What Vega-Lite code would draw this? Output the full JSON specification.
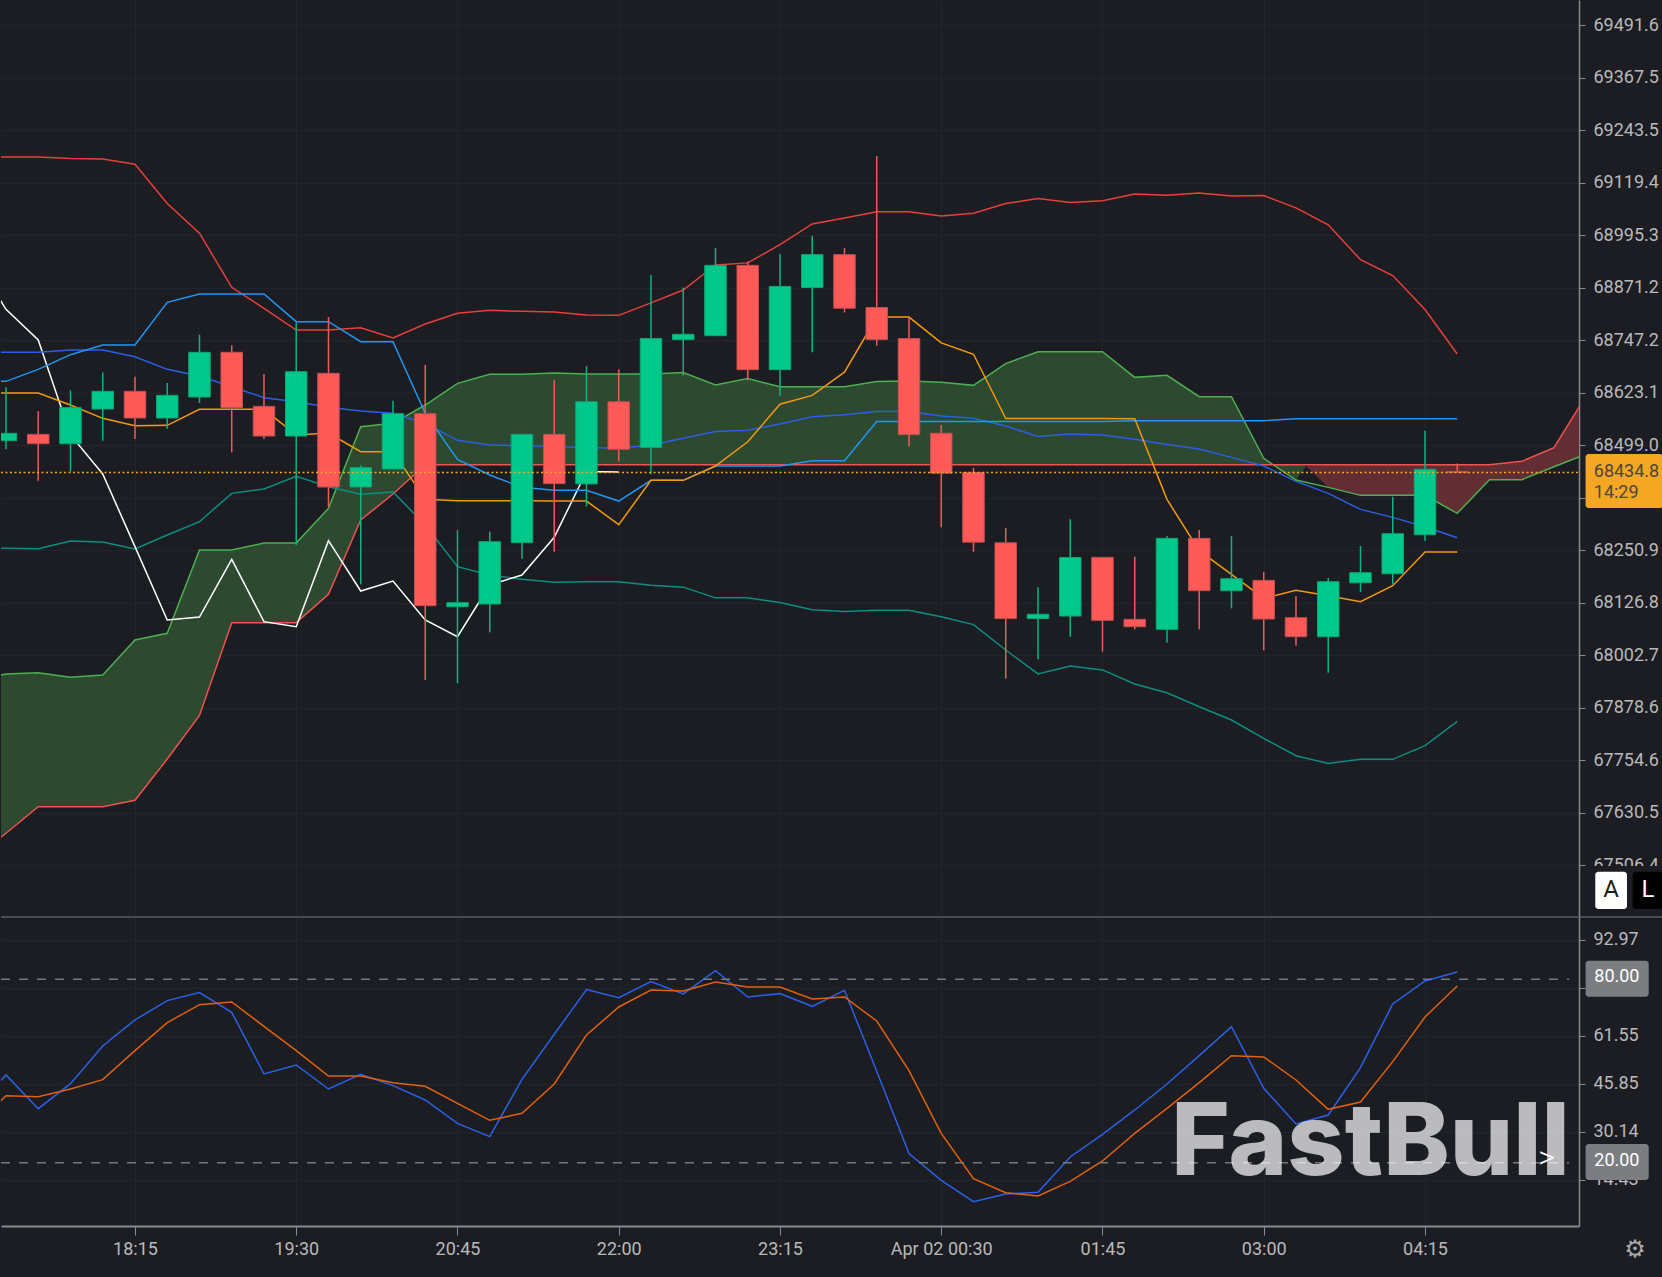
{
  "$schema": "https://vega.github.io/schema/vega-lite/v6.json",
  "background": "#1c1d22",
  "padding": 0,
  "spacing": 0,
  "bounds": "flush",
  "config": {
    "view": {"stroke": null},
    "axis": {
      "title": null,
      "labelFont": "Roboto",
      "labelFontSize": 18,
      "labelColor": "#b9b9b9",
      "tickColor": "#8a8a8d",
      "domainColor": "#8a8a8d",
      "gridColor": "#24252a",
      "gridWidth": 1,
      "labelOverlap": false,
      "labelBound": false,
      "labelFlush": false
    }
  },
  "datasets": {
    "bars": [
      {"t":"2024-04-01T17:00:00Z","upper":69180.5,"mid":68720.1,"lower":68257.7,"tenkan":68622.4,"kijun":68650,"chikou":68944.6,"spanA":67944.1,"spanB":67522,"k":37.2,"d":31.35},
      {"t":"2024-04-01T17:15:00Z","open":68509.8,"high":68635.8,"low":68489.3,"close":68527.1,"upper":69180.5,"mid":68718.5,"lower":68255.3,"tenkan":68622.4,"kijun":68650,"chikou":68820.2,"spanA":67958.3,"spanB":67582,"k":48.7,"d":41.93},
      {"t":"2024-04-01T17:30:00Z","open":68524.7,"high":68579.1,"low":68415.2,"close":68502.7,"upper":69180.5,"mid":68718.5,"lower":68254.5,"tenkan":68622.4,"kijun":68678.4,"chikou":68747.7,"spanA":67961.4,"spanB":67644.8,"k":37.67,"d":41.6},
      {"t":"2024-04-01T17:45:00Z","open":68502.7,"high":68628.7,"low":68436.5,"close":68587.8,"upper":69176.8,"mid":68724,"lower":68272.6,"tenkan":68594.1,"kijun":68713,"chikou":68523.2,"spanA":67950.4,"spanB":67644.8,"k":45.85,"d":44.11},
      {"t":"2024-04-01T18:00:00Z","open":68584.6,"high":68671.3,"low":68509.8,"close":68626.4,"upper":69175.5,"mid":68724,"lower":68270.3,"tenkan":68562.6,"kijun":68735.9,"chikou":68431,"spanA":67955.9,"spanB":67644.8,"k":58.18,"d":47.16},
      {"t":"2024-04-01T18:15:00Z","open":68626.4,"high":68661,"low":68513.7,"close":68563.4,"upper":69163,"mid":68708.3,"lower":68253.7,"tenkan":68545.2,"kijun":68735.9,"chikou":68259.3,"spanA":68038.7,"spanB":67659.8,"k":66.69,"d":56.65},
      {"t":"2024-04-01T18:30:00Z","open":68563.4,"high":68646,"low":68538.1,"close":68616.9,"upper":69070.3,"mid":68678.4,"lower":68286.8,"tenkan":68546,"kijun":68836.7,"chikou":68085.9,"spanA":68054.4,"spanB":67757.5,"k":73.02,"d":65.82},
      {"t":"2024-04-01T18:45:00Z","open":68613,"high":68760.3,"low":68598.8,"close":68718.6,"upper":69000.1,"mid":68662.6,"lower":68318.3,"tenkan":68583.8,"kijun":68856.4,"chikou":68093,"spanA":68251.4,"spanB":67860.2,"k":75.64,"d":71.71},
      {"t":"2024-04-01T19:00:00Z","open":68718.6,"high":68735.1,"low":68482.2,"close":68587.8,"upper":68872.2,"mid":68637.4,"lower":68385.3,"tenkan":68583.8,"kijun":68856.4,"chikou":68229.3,"spanA":68251.4,"spanB":68079.6,"k":69.2,"d":72.58},
      {"t":"2024-04-01T19:15:00Z","open":68590.9,"high":68667.3,"low":68513.7,"close":68520.8,"upper":68822.5,"mid":68611.4,"lower":68395.5,"tenkan":68583.8,"kijun":68856.4,"chikou":68082,"spanA":68267.9,"spanB":68079.6,"k":49.02,"d":64.62},
      {"t":"2024-04-01T19:30:00Z","open":68520.8,"high":68788.7,"low":68263.2,"close":68672.8,"upper":68771.3,"mid":68602,"lower":68425.5,"tenkan":68523.2,"kijun":68791,"chikou":68070.2,"spanA":68267.9,"spanB":68079.6,"k":51.96,"d":56.65},
      {"t":"2024-04-01T19:45:00Z","open":68668.9,"high":68802,"low":68353.8,"close":68400.3,"upper":68771.3,"mid":68588.6,"lower":68401.1,"tenkan":68527.9,"kijun":68791,"chikou":68273.4,"spanA":68349.8,"spanB":68146.6,"k":44.11,"d":48.36},
      {"t":"2024-04-01T20:00:00Z","open":68400.3,"high":68451.5,"low":68170.2,"close":68446,"upper":68776.8,"mid":68579.9,"lower":68383,"tenkan":68483.8,"kijun":68743.8,"chikou":68154.5,"spanA":68542.9,"spanB":68322.3,"k":48.91,"d":48.36},
      {"t":"2024-04-01T20:15:00Z","open":68442.8,"high":68604.3,"low":68442.8,"close":68573.6,"upper":68752.4,"mid":68574.4,"lower":68388.5,"tenkan":68483.8,"kijun":68743.8,"chikou":68178.1,"spanA":68550.7,"spanB":68383.7,"k":45.2,"d":46.18},
      {"t":"2024-04-01T20:30:00Z","open":68573.6,"high":68688.6,"low":67944.1,"close":68119.8,"upper":68785.5,"mid":68550.7,"lower":68310.5,"tenkan":68371.1,"kijun":68574.4,"chikou":68085.9,"spanA":68594.1,"spanB":68453,"k":40.51,"d":44.98},
      {"t":"2024-04-01T20:45:00Z","open":68117.4,"high":68298.6,"low":67936.3,"close":68126.9,"upper":68810.7,"mid":68510.6,"lower":68212,"tenkan":68368,"kijun":68465.7,"chikou":68046.6,"spanA":68645.3,"spanB":68453,"k":32.87,"d":39.42},
      {"t":"2024-04-01T21:00:00Z","open":68123.7,"high":68294.7,"low":68056.8,"close":68271.1,"upper":68817.8,"mid":68499.5,"lower":68192.3,"tenkan":68368,"kijun":68428.6,"chikou":68168.7,"spanA":68666.6,"spanB":68453,"k":28.51,"d":33.85},
      {"t":"2024-04-01T21:15:00Z","open":68268.7,"high":68526,"low":68230.9,"close":68524.7,"upper":68815.4,"mid":68498,"lower":68182.1,"tenkan":68368,"kijun":68399.5,"chikou":68192.3,"spanA":68666.6,"spanB":68453,"k":47.27,"d":36.15},
      {"t":"2024-04-01T21:30:00Z","open":68524.7,"high":68653.1,"low":68247.4,"close":68408.2,"upper":68813.9,"mid":68496.2,"lower":68175.4,"tenkan":68367,"kijun":68392.8,"chikou":68281.3,"spanA":68670,"spanB":68453,"k":62,"d":45.75},
      {"t":"2024-04-01T21:45:00Z","open":68407.6,"high":68686.1,"low":68354.4,"close":68601.7,"upper":68806.8,"mid":68493.7,"lower":68176.3,"tenkan":68367,"kijun":68392.4,"chikou":68437.1,"spanA":68667.5,"spanB":68453,"k":76.62,"d":61.78},
      {"t":"2024-04-01T22:00:00Z","open":68601.7,"high":68678.5,"low":68460.7,"close":68489.4,"upper":68806,"mid":68492,"lower":68176.3,"tenkan":68311.4,"kijun":68367,"chikou":68436,"spanA":68667.5,"spanB":68453,"k":74,"d":70.95},
      {"t":"2024-04-01T22:15:00Z","open":68493.6,"high":68901.4,"low":68430.3,"close":68751.1,"upper":68835.5,"mid":68499.6,"lower":68167.8,"tenkan":68416,"kijun":68416,"spanA":68667.5,"spanB":68453,"k":79.24,"d":76.51},
      {"t":"2024-04-01T22:30:00Z","open":68748.6,"high":68871.8,"low":68663.3,"close":68761.2,"upper":68865.9,"mid":68515.6,"lower":68163.6,"tenkan":68416,"kijun":68416,"spanA":68670.9,"spanB":68453,"k":75.2,"d":76.18},
      {"t":"2024-04-01T22:45:00Z","open":68757.9,"high":68965.5,"low":68757.9,"close":68924.2,"upper":68925,"mid":68531.6,"lower":68138.3,"tenkan":68449.8,"kijun":68449.8,"spanA":68641.4,"spanB":68453,"k":82.84,"d":79.13},
      {"t":"2024-04-01T23:00:00Z","open":68924.2,"high":68933.4,"low":68652.3,"close":68677.7,"upper":68930,"mid":68534.2,"lower":68138.3,"tenkan":68507.2,"kijun":68449.8,"spanA":68656.6,"spanB":68453,"k":74.22,"d":77.49},
      {"t":"2024-04-01T23:15:00Z","open":68677.7,"high":68951.2,"low":68616,"close":68874.3,"upper":68973,"mid":68549.4,"lower":68127.3,"tenkan":68595.8,"kijun":68449.8,"spanA":68637.2,"spanB":68453,"k":75.31,"d":77.49},
      {"t":"2024-04-01T23:30:00Z","open":68871.8,"high":68994.2,"low":68719,"close":68949.5,"upper":69022,"mid":68566.3,"lower":68110.4,"tenkan":68616.9,"kijun":68462.4,"spanA":68637.2,"spanB":68453,"k":71.16,"d":73.56},
      {"t":"2024-04-01T23:45:00Z","open":68949.5,"high":68965.5,"low":68812.7,"close":68822.9,"upper":69036,"mid":68571.3,"lower":68106.2,"tenkan":68671.8,"kijun":68462.4,"spanA":68637.2,"spanB":68453,"k":76.4,"d":74.22},
      {"t":"2024-04-02T00:00:00Z","open":68824.6,"high":69182.5,"low":68734.2,"close":68748.6,"upper":69050.8,"mid":68578.9,"lower":68108.7,"tenkan":68801.8,"kijun":68555.3,"spanA":68649.8,"spanB":68453,"k":49.89,"d":66.36},
      {"t":"2024-04-02T00:15:00Z","open":68751.1,"high":68800.1,"low":68496.2,"close":68524,"upper":69050.8,"mid":68578.9,"lower":68108.7,"tenkan":68801.8,"kijun":68555.3,"spanA":68650.7,"spanB":68453,"k":22.95,"d":50.11},
      {"t":"2024-04-02T00:30:00Z","open":68527.4,"high":68546.8,"low":68305.4,"close":68432.9,"upper":69040.6,"mid":68567.9,"lower":68093.5,"tenkan":68741,"kijun":68555.3,"spanA":68648.1,"spanB":68453,"k":14.22,"d":29.6},
      {"t":"2024-04-02T00:45:00Z","open":68434.6,"high":68445.5,"low":68247.2,"close":68270,"upper":69047.4,"mid":68562.9,"lower":68075,"tenkan":68714,"kijun":68555.3,"spanA":68640.5,"spanB":68453,"k":7.24,"d":14.76},
      {"t":"2024-04-02T01:00:00Z","open":68268.3,"high":68303.7,"low":67947.5,"close":68089.3,"upper":69070.2,"mid":68544.3,"lower":68015,"tenkan":68562,"kijun":68555.3,"spanA":68692,"spanB":68453,"k":9.75,"d":10.18},
      {"t":"2024-04-02T01:15:00Z","open":68089.3,"high":68163.6,"low":67993.1,"close":68099.5,"upper":69082,"mid":68519.8,"lower":67958.5,"tenkan":68562,"kijun":68555.3,"spanA":68719.9,"spanB":68453,"k":10.29,"d":9.09},
      {"t":"2024-04-02T01:30:00Z","open":68095.3,"high":68324,"low":68046.3,"close":68233.7,"upper":69072.7,"mid":68525.7,"lower":67977,"tenkan":68562,"kijun":68555.3,"spanA":68719.9,"spanB":68453,"k":21.85,"d":13.89},
      {"t":"2024-04-02T01:45:00Z","open":68234,"high":68234,"low":68011,"close":68085.1,"upper":69076.9,"mid":68523.2,"lower":67968,"tenkan":68562,"kijun":68555.3,"spanA":68719.9,"spanB":68453,"k":29.27,"d":20.55},
      {"t":"2024-04-02T02:00:00Z","open":68087.5,"high":68235.6,"low":68063.8,"close":68070.1,"upper":69092.8,"mid":68512.9,"lower":67934.6,"tenkan":68561.7,"kijun":68557,"spanA":68659.4,"spanB":68453,"k":37.24,"d":29.6},
      {"t":"2024-04-02T02:15:00Z","open":68063.8,"high":68284.4,"low":68032.3,"close":68278.9,"upper":69090,"mid":68501,"lower":67914.1,"tenkan":68371,"kijun":68557,"spanA":68664.4,"spanB":68453,"k":45.75,"d":37.78},
      {"t":"2024-04-02T02:30:00Z","open":68278.9,"high":68298.6,"low":68063.8,"close":68155.2,"upper":69095.3,"mid":68490,"lower":67881,"tenkan":68249.7,"kijun":68557,"spanA":68613.7,"spanB":68453,"k":55.02,"d":46.18},
      {"t":"2024-04-02T02:45:00Z","open":68155.2,"high":68284.4,"low":68113.5,"close":68183.6,"upper":69087.8,"mid":68470.3,"lower":67849.5,"tenkan":68193.8,"kijun":68557,"spanA":68613.7,"spanB":68453,"k":64.51,"d":55.02},
      {"t":"2024-04-02T03:00:00Z","open":68179.6,"high":68199.3,"low":68014.2,"close":68088.3,"upper":69089,"mid":68449.8,"lower":67806.2,"tenkan":68137.1,"kijun":68557,"spanA":68468,"spanB":68453,"k":44.33,"d":54.58},
      {"t":"2024-04-02T03:15:00Z","open":68091.4,"high":68142.6,"low":68025.2,"close":68046.5,"upper":69060,"mid":68413.6,"lower":67765.2,"tenkan":68156,"kijun":68561.7,"spanA":68416.8,"spanB":68453,"k":32.65,"d":47.05},
      {"t":"2024-04-02T03:30:00Z","open":68046.5,"high":68185.1,"low":67961.4,"close":68176.5,"upper":69020,"mid":68385.2,"lower":67747.1,"tenkan":68143.4,"kijun":68561.7,"spanA":68399.4,"spanB":68453,"k":35.6,"d":37.45},
      {"t":"2024-04-02T03:45:00Z","open":68174.1,"high":68260.8,"low":68152.1,"close":68197.7,"upper":68937.5,"mid":68347.4,"lower":67756.6,"tenkan":68129.2,"kijun":68561.7,"spanA":68380.5,"spanB":68453,"k":51.09,"d":39.85},
      {"t":"2024-04-02T04:00:00Z","open":68195.4,"high":68377.4,"low":68170.2,"close":68289.9,"upper":68900,"mid":68328.5,"lower":67756.6,"tenkan":68167,"kijun":68561.7,"spanA":68380.5,"spanB":68453,"k":71.93,"d":53.05},
      {"t":"2024-04-02T04:15:00Z","open":68287.6,"high":68533.4,"low":68272.6,"close":68442,"upper":68819.8,"mid":68306.5,"lower":67788.9,"tenkan":68246.6,"kijun":68561.7,"spanA":68380.5,"spanB":68453,"k":79.45,"d":67.67},
      {"t":"2024-04-02T04:30:00Z","open":68436.5,"high":68456,"low":68434,"close":68434.8,"upper":68714.5,"mid":68280.5,"lower":67846.4,"tenkan":68246.6,"kijun":68561.7,"spanA":68338,"spanB":68453,"k":82.4,"d":77.82},
      {"t":"2024-04-02T04:45:00Z","spanA":68417.5,"spanB":68453},
      {"t":"2024-04-02T05:00:00Z","spanA":68417.5,"spanB":68460.9},
      {"t":"2024-04-02T05:15:00Z","spanA":68448.3,"spanB":68493.2},
      {"t":"2024-04-02T05:30:00Z","spanA":68478.2,"spanB":68616.9}
    ],
    "cloud": [
      {"t":"2024-04-01T17:00:00Z","side":"bull","spanA":67944.1,"spanB":67522},
      {"t":"2024-04-01T17:15:00Z","side":"bull","spanA":67958.3,"spanB":67582},
      {"t":"2024-04-01T17:30:00Z","side":"bull","spanA":67961.4,"spanB":67644.8},
      {"t":"2024-04-01T17:45:00Z","side":"bull","spanA":67950.4,"spanB":67644.8},
      {"t":"2024-04-01T18:00:00Z","side":"bull","spanA":67955.9,"spanB":67644.8},
      {"t":"2024-04-01T18:15:00Z","side":"bull","spanA":68038.7,"spanB":67659.8},
      {"t":"2024-04-01T18:30:00Z","side":"bull","spanA":68054.4,"spanB":67757.5},
      {"t":"2024-04-01T18:45:00Z","side":"bull","spanA":68251.4,"spanB":67860.2},
      {"t":"2024-04-01T19:00:00Z","side":"bull","spanA":68251.4,"spanB":68079.6},
      {"t":"2024-04-01T19:15:00Z","side":"bull","spanA":68267.9,"spanB":68079.6},
      {"t":"2024-04-01T19:30:00Z","side":"bull","spanA":68267.9,"spanB":68079.6},
      {"t":"2024-04-01T19:45:00Z","side":"bull","spanA":68349.8,"spanB":68146.6},
      {"t":"2024-04-01T20:00:00Z","side":"bull","spanA":68542.9,"spanB":68322.3},
      {"t":"2024-04-01T20:15:00Z","side":"bull","spanA":68550.7,"spanB":68383.7},
      {"t":"2024-04-01T20:30:00Z","side":"bull","spanA":68594.1,"spanB":68453},
      {"t":"2024-04-01T20:45:00Z","side":"bull","spanA":68645.3,"spanB":68453},
      {"t":"2024-04-01T21:00:00Z","side":"bull","spanA":68666.6,"spanB":68453},
      {"t":"2024-04-01T21:15:00Z","side":"bull","spanA":68666.6,"spanB":68453},
      {"t":"2024-04-01T21:30:00Z","side":"bull","spanA":68670,"spanB":68453},
      {"t":"2024-04-01T21:45:00Z","side":"bull","spanA":68667.5,"spanB":68453},
      {"t":"2024-04-01T22:00:00Z","side":"bull","spanA":68667.5,"spanB":68453},
      {"t":"2024-04-01T22:15:00Z","side":"bull","spanA":68667.5,"spanB":68453},
      {"t":"2024-04-01T22:30:00Z","side":"bull","spanA":68670.9,"spanB":68453},
      {"t":"2024-04-01T22:45:00Z","side":"bull","spanA":68641.4,"spanB":68453},
      {"t":"2024-04-01T23:00:00Z","side":"bull","spanA":68656.6,"spanB":68453},
      {"t":"2024-04-01T23:15:00Z","side":"bull","spanA":68637.2,"spanB":68453},
      {"t":"2024-04-01T23:30:00Z","side":"bull","spanA":68637.2,"spanB":68453},
      {"t":"2024-04-01T23:45:00Z","side":"bull","spanA":68637.2,"spanB":68453},
      {"t":"2024-04-02T00:00:00Z","side":"bull","spanA":68649.8,"spanB":68453},
      {"t":"2024-04-02T00:15:00Z","side":"bull","spanA":68650.7,"spanB":68453},
      {"t":"2024-04-02T00:30:00Z","side":"bull","spanA":68648.1,"spanB":68453},
      {"t":"2024-04-02T00:45:00Z","side":"bull","spanA":68640.5,"spanB":68453},
      {"t":"2024-04-02T01:00:00Z","side":"bull","spanA":68692,"spanB":68453},
      {"t":"2024-04-02T01:15:00Z","side":"bull","spanA":68719.9,"spanB":68453},
      {"t":"2024-04-02T01:30:00Z","side":"bull","spanA":68719.9,"spanB":68453},
      {"t":"2024-04-02T01:45:00Z","side":"bull","spanA":68719.9,"spanB":68453},
      {"t":"2024-04-02T02:00:00Z","side":"bull","spanA":68659.4,"spanB":68453},
      {"t":"2024-04-02T02:15:00Z","side":"bull","spanA":68664.4,"spanB":68453},
      {"t":"2024-04-02T02:30:00Z","side":"bull","spanA":68613.7,"spanB":68453},
      {"t":"2024-04-02T02:45:00Z","side":"bull","spanA":68613.7,"spanB":68453},
      {"t":"2024-04-02T03:00:00Z","side":"bull","spanA":68468,"spanB":68453},
      {"t":"2024-04-02T03:15:00Z","side":"bull","spanA":68416.8,"spanB":68453},
      {"t":"2024-04-02T03:19:39Z","side":"bull","spanA":68450,"spanB":68450},
      {"t":"2024-04-02T03:19:39Z","side":"bear","spanA":68450,"spanB":68450},
      {"t":"2024-04-02T03:30:00Z","side":"bear","spanA":68399.4,"spanB":68453},
      {"t":"2024-04-02T03:45:00Z","side":"bear","spanA":68380.5,"spanB":68453},
      {"t":"2024-04-02T04:00:00Z","side":"bear","spanA":68380.5,"spanB":68453},
      {"t":"2024-04-02T04:15:00Z","side":"bear","spanA":68380.5,"spanB":68453},
      {"t":"2024-04-02T04:30:00Z","side":"bear","spanA":68338,"spanB":68453},
      {"t":"2024-04-02T04:45:00Z","side":"bear","spanA":68417.5,"spanB":68453},
      {"t":"2024-04-02T05:00:00Z","side":"bear","spanA":68417.5,"spanB":68460.9},
      {"t":"2024-04-02T05:15:00Z","side":"bear","spanA":68448.3,"spanB":68493.2},
      {"t":"2024-04-02T05:30:00Z","side":"bear","spanA":68478.2,"spanB":68616.9}
    ]
  },
  "vconcat": [
    {
      "width": 1578,
      "height": 917,
      "resolve": {"scale": {"color": "independent"}},
      "encoding": {
        "x": {
          "field": "t",
          "type": "temporal",
          "scale": {"type": "utc", "nice": false, "padding": 0, "domain": ["2024-04-01T17:12:41Z", "2024-04-02T05:26:38Z"]},
          "axis": {
            "values": ["2024-04-01T18:15:00Z", "2024-04-01T19:30:00Z", "2024-04-01T20:45:00Z", "2024-04-01T22:00:00Z", "2024-04-01T23:15:00Z", "2024-04-02T00:30:00Z", "2024-04-02T01:45:00Z", "2024-04-02T03:00:00Z", "2024-04-02T04:15:00Z"],
            "grid": true,
            "labels": false,
            "ticks": false,
            "domain": false,
            "minExtent": 0,
            "maxExtent": 0
          }
        },
        "y": {
          "field": "value",
          "type": "quantitative",
          "title": null,
          "scale": {"domain": [67384, 69551.3], "nice": false, "zero": false},
          "axis": {
            "orient": "right",
            "values": [69491.6, 69367.5, 69243.5, 69119.4, 68995.3, 68871.2, 68747.2, 68623.1, 68499, 68374.9, 68250.9, 68126.8, 68002.7, 67878.6, 67754.6, 67630.5, 67506.4],
            "format": ".1f",
            "grid": true,
            "domainWidth": 1.5,
            "tickSize": 6,
            "labelPadding": 8,
            "minExtent": 84,
            "maxExtent": 84
          }
        }
      },
      "layer": [
        {
          "data": {"name": "cloud"},
          "mark": {"type": "area", "clip": true},
          "encoding": {
            "y": {"field": "spanA", "type": "quantitative", "title": null},
            "y2": {"field": "spanB"},
            "color": {"field": "side", "type": "nominal", "legend": null, "scale": {"domain": ["bull", "bear"], "range": ["#2d4930", "#622e33"]}}
          }
        },
        {
          "data": {"name": "bars"},
          "transform": [
            {"fold": ["spanA", "spanB", "lower", "chikou", "upper", "mid", "kijun", "tenkan"], "as": ["series", "value"]},
            {"filter": "isValid(datum.value)"}
          ],
          "mark": {"type": "line", "clip": true, "strokeWidth": 1.5},
          "encoding": {
            "color": {
              "field": "series",
              "type": "nominal",
              "legend": null,
              "scale": {
                "domain": ["spanA", "spanB", "lower", "chikou", "upper", "mid", "kijun", "tenkan"],
                "range": ["#4caf50", "#ef5350", "#0b8f80", "#ffffff", "#e5403c", "#2a5fe8", "#2196f3", "#f09a0c"]
              }
            }
          }
        },
        {
          "data": {"name": "bars"},
          "mark": {"type": "rule", "clip": true, "strokeWidth": 1.5},
          "encoding": {
            "y": {"field": "high", "type": "quantitative", "title": null},
            "y2": {"field": "low"},
            "color": {"condition": {"test": "datum.close < datum.open", "value": "#f2595a"}, "value": "#0bb583"}
          }
        },
        {
          "data": {"name": "bars"},
          "mark": {"type": "bar", "clip": true, "width": 21.5, "strokeWidth": 1},
          "encoding": {
            "y": {"field": "open", "type": "quantitative", "title": null},
            "y2": {"field": "close"},
            "fill": {"condition": {"test": "datum.close < datum.open", "value": "#ff5a58"}, "value": "#00c78a"},
            "stroke": {"condition": {"test": "datum.close < datum.open", "value": "#c24e50"}, "value": "#0ca57a"}
          }
        },
        {
          "data": {"values": [{"t": "2024-04-01T17:12:41Z", "t2": "2024-04-02T05:26:38Z", "value": 68434.8}], "format": {"parse": {"t": "date", "t2": "date"}}},
          "mark": {"type": "rule", "color": "#f5a623", "strokeWidth": 1.5, "strokeDash": [2, 2.5]},
          "encoding": {"x2": {"field": "t2"}}
        },
        {
          "data": {"values": [{"t": "2024-04-01T17:12:41Z", "t2": "2024-04-02T06:05:42Z", "value": 67384}], "format": {"parse": {"t": "date", "t2": "date"}}},
          "mark": {"type": "rule", "color": "#5c5d61", "strokeWidth": 1.5},
          "encoding": {"x2": {"field": "t2"}}
        },
        {
          "data": {
            "values": [
              {"t": "2024-04-02T05:27:36Z", "t2": "2024-04-02T06:05:42Z", "value": 67504.5, "value2": 67483, "fill": "cover"},
              {"t": "2024-04-02T05:29:42Z", "t2": "2024-04-02T06:05:42Z", "value": 68478.3, "value2": 68350.6, "fill": "tag"},
              {"t": "2024-04-02T05:34:12Z", "t2": "2024-04-02T05:48:57Z", "value": 67491, "value2": 67403, "fill": "auto"},
              {"t": "2024-04-02T05:51:36Z", "t2": "2024-04-02T06:05:42Z", "value": 67491, "value2": 67403, "fill": "log"}
            ],
            "format": {"parse": {"t": "date", "t2": "date"}}
          },
          "mark": {"type": "rect", "cornerRadius": 3},
          "encoding": {
            "x2": {"field": "t2"},
            "y2": {"field": "value2"},
            "color": {"field": "fill", "type": "nominal", "legend": null, "scale": {"domain": ["cover", "tag", "auto", "log"], "range": ["#1c1d22", "#f5a623", "#ffffff", "#000000"]}}
          }
        },
        {
          "data": {
            "values": [
              {"t": "2024-04-02T05:33:30Z", "value": 68435.4, "label": "68434.8"},
              {"t": "2024-04-02T05:33:30Z", "value": 68385.8, "label": "14:29"}
            ]
          },
          "mark": {"type": "text", "align": "left", "baseline": "middle", "font": "Roboto", "fontSize": 18, "color": "#4a4740"},
          "encoding": {"text": {"field": "label"}}
        },
        {
          "data": {
            "values": [
              {"t": "2024-04-02T05:41:30Z", "value": 67447.7, "label": "A", "tone": "dark"},
              {"t": "2024-04-02T05:58:43Z", "value": 67447.7, "label": "L", "tone": "light"}
            ]
          },
          "mark": {"type": "text", "align": "center", "baseline": "middle", "font": "Roboto", "fontSize": 24},
          "encoding": {
            "text": {"field": "label"},
            "color": {"field": "tone", "type": "nominal", "legend": null, "scale": {"domain": ["dark", "light"], "range": ["#1c1d22", "#ffffff"]}}
          }
        }
      ]
    },
    {
      "width": 1578,
      "height": 309,
      "resolve": {"scale": {"color": "independent"}},
      "encoding": {
        "x": {
          "field": "t",
          "type": "temporal",
          "scale": {"type": "utc", "nice": false, "domain": ["2024-04-01T17:12:41Z", "2024-04-02T05:26:38Z"]},
          "axis": {
            "values": ["2024-04-01T18:15:00Z", "2024-04-01T19:30:00Z", "2024-04-01T20:45:00Z", "2024-04-01T22:00:00Z", "2024-04-01T23:15:00Z", "2024-04-02T00:30:00Z", "2024-04-02T01:45:00Z", "2024-04-02T03:00:00Z", "2024-04-02T04:15:00Z"],
            "labelExpr": "utcFormat(datum.value, '%H:%M') == '00:30' ? 'Apr 02 00:30' : utcFormat(datum.value, '%H:%M')",
            "grid": true,
            "domainWidth": 2,
            "tickSize": 9,
            "labelPadding": 5,
            "minExtent": 51,
            "maxExtent": 51
          }
        },
        "y": {
          "field": "value",
          "type": "quantitative",
          "scale": {"domain": [-0.73, 100.39], "nice": false, "zero": false},
          "axis": {
            "orient": "right",
            "values": [92.97, 77.26, 61.55, 45.85, 30.14, 14.43],
            "format": ".2f",
            "grid": true,
            "domainWidth": 1.5,
            "tickSize": 6,
            "labelPadding": 8,
            "minExtent": 84,
            "maxExtent": 84
          }
        }
      },
      "layer": [
        {
          "data": {"name": "bars"},
          "transform": [
            {"fold": ["k", "d"], "as": ["series", "value"]},
            {"filter": "isValid(datum.value)"}
          ],
          "mark": {"type": "line", "clip": true, "strokeWidth": 1.5},
          "encoding": {
            "color": {"field": "series", "type": "nominal", "legend": null, "scale": {"domain": ["k", "d"], "range": ["#2962e8", "#e0610e"]}}
          }
        },
        {
          "data": {
            "values": [
              {"t": "2024-04-01T17:12:41Z", "t2": "2024-04-02T05:22:00Z", "value": 80},
              {"t": "2024-04-01T17:12:41Z", "t2": "2024-04-02T05:22:00Z", "value": 20}
            ],
            "format": {"parse": {"t": "date", "t2": "date"}}
          },
          "mark": {"type": "rule", "color": "#77787b", "strokeWidth": 1.5, "strokeDash": [9, 9]},
          "encoding": {"x2": {"field": "t2"}}
        },
        {
          "data": {
            "values": [
              {"t": "2024-04-02T05:29:42Z", "t2": "2024-04-02T05:59:03Z", "value": 86.09, "value2": 74.31},
              {"t": "2024-04-02T05:29:42Z", "t2": "2024-04-02T05:59:03Z", "value": 26.11, "value2": 14.33}
            ],
            "format": {"parse": {"t": "date", "t2": "date"}}
          },
          "mark": {"type": "rect", "color": "#7c7d80", "cornerRadius": 3},
          "encoding": {"x2": {"field": "t2"}, "y2": {"field": "value2"}}
        },
        {
          "data": {
            "values": [
              {"t": "2024-04-02T05:44:15Z", "value": 80.75, "label": "80.00"},
              {"t": "2024-04-02T05:44:15Z", "value": 20.54, "label": "20.00"}
            ]
          },
          "mark": {"type": "text", "align": "center", "baseline": "middle", "font": "Roboto", "fontSize": 18, "color": "#ffffff"},
          "encoding": {"text": {"field": "label"}}
        },
        {
          "data": {"values": [{"t": "2024-04-02T02:17:00Z", "value": 15.96, "label": "FastBull"}]},
          "mark": {"type": "text", "align": "left", "baseline": "alphabetic", "font": "Inter", "fontWeight": 800, "fontSize": 100, "color": "#ffffff", "opacity": 0.7},
          "encoding": {"text": {"field": "label"}}
        },
        {
          "data": {"values": [{"t": "2024-04-02T05:11:30Z", "value": 21.52, "label": ">"}]},
          "mark": {"type": "text", "align": "center", "baseline": "middle", "font": "Roboto", "fontWeight": 300, "fontSize": 32, "color": "#ffffff"},
          "encoding": {"text": {"field": "label"}}
        },
        {
          "data": {"values": [{"t": "2024-04-02T05:52:40Z", "value": -8.58, "label": "⚙"}]},
          "mark": {"type": "text", "align": "center", "baseline": "middle", "font": "DejaVu Sans", "fontSize": 24, "color": "#a8a8a8"},
          "encoding": {"text": {"field": "label"}}
        }
      ]
    }
  ]
}
